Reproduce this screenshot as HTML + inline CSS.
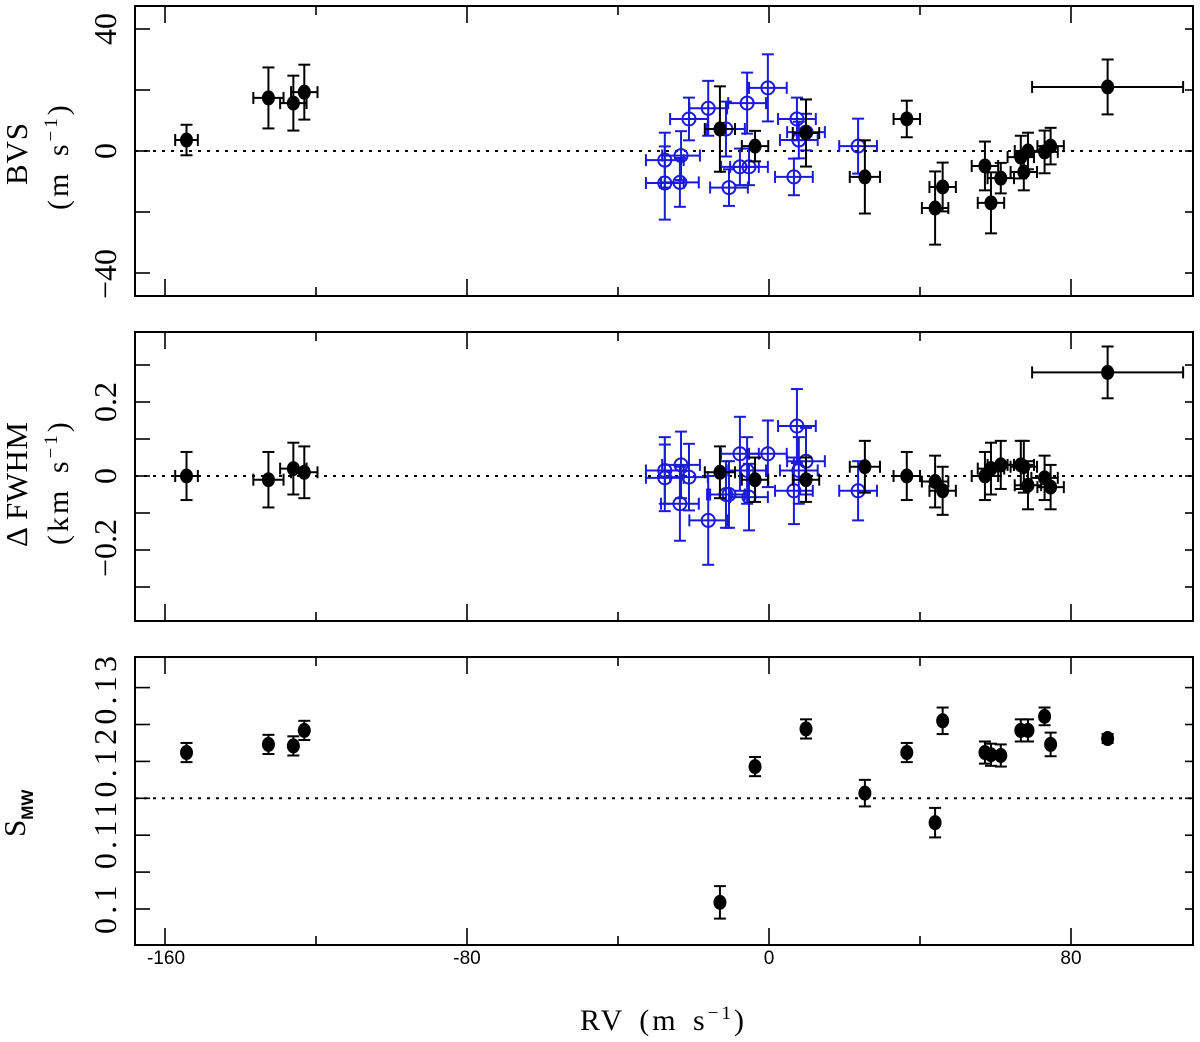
<!DOCTYPE html>
<html><head><meta charset="utf-8"><style>
html,body{margin:0;padding:0;background:#fff;}
svg{display:block;}
text{font-family:"Liberation Serif",serif;fill:#000;}
.sans{font-family:"Liberation Sans",sans-serif;}
.sp{letter-spacing:3px;word-spacing:4px;}
</style></head><body>
<svg id="chart" width="1200" height="1042" viewBox="0 0 1200 1042" xmlns="http://www.w3.org/2000/svg">
<g id="frames"></g>
<g id="marks"></g>
<g id="labels">
<text class="sans" x="166" y="964" font-size="19" text-anchor="middle">-160</text>
<text class="sans" x="467" y="964" font-size="19" text-anchor="middle">-80</text>
<text class="sans" x="769" y="964" font-size="19" text-anchor="middle">0</text>
<text class="sans" x="1071" y="964" font-size="19" text-anchor="middle">80</text>
<text class="sp" x="580" y="1030" font-size="30">RV (m s<tspan font-size="19" dy="-11">−1</tspan><tspan dy="11">)</tspan></text>

<text transform="translate(27,185) rotate(-90)" font-size="31" textLength="62">BVS</text>
<text class="sp" transform="translate(68,210) rotate(-90)" font-size="30">(m s<tspan font-size="19" dy="-11">−1</tspan><tspan dy="11">)</tspan></text>
<text transform="translate(116,29) rotate(-90)" font-size="32" text-anchor="middle">40</text>
<text transform="translate(116,151) rotate(-90)" font-size="32" text-anchor="middle">0</text>
<text transform="translate(116,274) rotate(-90)" font-size="32" text-anchor="middle">−40</text>

<text transform="translate(27,547) rotate(-90)" font-size="31" textLength="125">Δ FWHM</text>
<text class="sp" transform="translate(68,545) rotate(-90)" font-size="30">(km s<tspan font-size="19" dy="-11">−1</tspan><tspan dy="11">)</tspan></text>
<text transform="translate(116,402) rotate(-90)" font-size="32" text-anchor="middle">0.2</text>
<text transform="translate(116,476) rotate(-90)" font-size="32" text-anchor="middle">0</text>
<text transform="translate(116,548) rotate(-90)" font-size="32" text-anchor="middle">−0.2</text>

<text transform="translate(25,837) rotate(-90)" font-size="31">S<tspan font-size="17" font-weight="bold" dy="8" class="sans">MW</tspan></text>
<text transform="translate(116,934) rotate(-90)" font-size="32" textLength="278">0.1 0.110.120.13</text>
</g>
</svg>
<script>
// ---- data ----
const rvBlack   = [-154.3,-132.6,-126.0,-123.1,-13.0,-3.7,9.8,25.4,36.5,44.0,46.0,57.2,58.8,61.4,66.7,67.5,68.6,73.0,74.6,89.7];
const rvBlackErr= [3,4,3.5,3.5,4,3.5,3.5,4,3.5,3.5,3.5,3.5,3.5,3.5,3.5,3.5,3.5,3.5,3.5,20];
const bvsBlack  = [3.6,17.4,15.7,19.3,7.2,1.6,5.9,-8.5,10.5,-18.7,-11.8,-4.9,-17.0,-8.9,-2.0,-6.9,0.0,-0.3,1.6,21.0];
const bvsBlackErr=[5,10,9,9,14,5,11,12,6,12,8,8,10,5,7,6,6,7,6,9];
const fwhmBlack = [0,-0.01,0.02,0.01,0.01,-0.01,-0.01,0.025,0,-0.015,-0.04,0,0.02,0.03,0.03,0.025,-0.025,-0.005,-0.03,0.28];
const fwhmBlackErr=[0.065,0.075,0.07,0.07,0.07,0.06,0.06,0.07,0.065,0.07,0.065,0.065,0.07,0.065,0.065,0.07,0.065,0.06,0.06,0.07];
const smwRv     = [-154.3,-132.6,-126.0,-123.1,-13.0,-3.7,9.8,25.4,36.5,44.0,46.0,57.2,58.8,61.4,66.7,68.6,73.0,74.6,89.7];
const smwVal    = [0.1212,0.1223,0.1221,0.1242,0.1009,0.1193,0.1244,0.1157,0.1212,0.1117,0.1255,0.1212,0.1209,0.1208,0.1242,0.1242,0.1261,0.1223,0.1231];
const smwErr    = [0.0013,0.0013,0.0013,0.0013,0.0022,0.0013,0.0013,0.0018,0.0013,0.0020,0.0018,0.0015,0.0015,0.0015,0.0015,0.0015,0.0012,0.0016,0.0006];
const rvBlue    = [-27.6,-27.6,-23.3,-23.6,-21.2,-16.1,-11.4,-10.6,-7.7,-5.3,-5.8,-0.3,7.4,7.9,9.8,6.6,23.6];
const rvBlueErr = [5,5,5,5,5,5,5,5,5,5,5,5,5,5,5,5,5];
const bvsBlue   = [-3.0,-10.5,-1.5,-10.3,10.5,14.0,7.2,-12.0,-5.2,-5.2,15.7,20.7,10.5,3.6,6.2,-8.5,1.6];
const bvsBlueErr= [9,12,8,8,7,9,9,6,6,6,10,11,7,6,6,6,9];
const fwhmBlue  = [0.015,-0.005,0.03,-0.075,-0.003,-0.12,-0.05,-0.05,0.06,-0.057,0.015,0.06,0.135,0.015,0.04,-0.04,-0.04];
const fwhmBlueErr=[0.09,0.09,0.09,0.1,0.09,0.12,0.09,0.09,0.1,0.09,0.09,0.09,0.1,0.09,0.09,0.09,0.08];
const xTicksMajor = [-160,-80,0,80];
const xTicksMinor = [-120,-40,40];

// ---- axes ----
const X0=135, X1=1193;
const xs = v => 769 + v*3.775;
const panels = [
  {name:'bvs',   top:6,   bot:296, y: v => 151 - v*3.05,          ticks:[-40,-20,0,20,40], zero:0},
  {name:'fwhm',  top:332, bot:621, y: v => 476 - v*370,           ticks:[-0.3,-0.2,-0.1,0,0.1,0.2,0.3], zero:0},
  {name:'smw',   top:657, bot:945, y: v => 909 - (v-0.1)*7380,    ticks:[0.1,0.105,0.11,0.115,0.12,0.125,0.13], zero:0.115}
];
const NS='http://www.w3.org/2000/svg';
const frames=document.getElementById('frames'), marks=document.getElementById('marks');
function mk(tag, attrs, parent){
  const e=document.createElementNS(NS,tag);
  for(const k in attrs) e.setAttribute(k,attrs[k]);
  parent.appendChild(e); return e;
}
function line(x1,y1,x2,y2,stroke,w,parent,name){
  const l=mk('line',{x1:x1,y1:y1,x2:x2,y2:y2,stroke:stroke,'stroke-width':w},parent);
  
  
  return l;
}
panels.forEach(p=>{
  const g=mk('g',{},frames);
  
  
  const r=mk('rect',{x:X0,y:p.top,width:X1-X0,height:p.bot-p.top,fill:'none',stroke:'#000','stroke-width':2},g);
  
  
  xTicksMajor.forEach(t=>{ line(xs(t),p.bot,xs(t),p.bot-17,'#000',1.6,g,'x-tick-major'); line(xs(t),p.top,xs(t),p.top+17,'#000',1.6,g,'x-tick-major-top'); });
  xTicksMinor.forEach(t=>{ line(xs(t),p.bot,xs(t),p.bot-9,'#000',1.6,g,'x-tick-minor'); line(xs(t),p.top,xs(t),p.top+9,'#000',1.6,g,'x-tick-minor-top'); });
  p.ticks.forEach(t=>{ line(X0,p.y(t),X0+15,p.y(t),'#000',1.6,g,'y-tick'); line(X1,p.y(t),X1-8,p.y(t),'#000',1.6,g,'y-tick-right'); });
  const z=line(X0,p.y(p.zero),X1,p.y(p.zero),'#000',2,g,p.name+'-reference-line');
  z.setAttribute('stroke-dasharray','3,6');
});
function errPoint(x,y,xe,ye,p,color,open,name){
  const g=mk('g',{},marks);
  
  
  const cx=xs(x), cy=p.y(y), cap=6;
  if(xe!==null){
    const xl=xs(x-xe), xr=xs(x+xe);
    line(xl,cy,xr,cy,color,2,g,'x-error-bar');
    line(xl,cy-cap,xl,cy+cap,color,2,g,'x-error-cap');
    line(xr,cy-cap,xr,cy+cap,color,2,g,'x-error-cap');
  }
  const yt=p.y(y+ye), yb=p.y(y-ye);
  line(cx,yt,cx,yb,color,2,g,'y-error-bar');
  line(cx-cap,yt,cx+cap,yt,color,2,g,'y-error-cap');
  line(cx-cap,yb,cx+cap,yb,color,2,g,'y-error-cap');
  const c = open ? mk('circle',{cx:cx,cy:cy,r:6.5,fill:'none',stroke:color,'stroke-width':2},g)
                 : mk('ellipse',{cx:cx,cy:cy,rx:6.5,ry:7.5,fill:color},g);
  
  
}
const blue='#1a1adc';
rvBlue.forEach((x,i)=>errPoint(x,bvsBlue[i],rvBlueErr[i],bvsBlueErr[i],panels[0],blue,true,'bvs-blue-point'));
rvBlack.forEach((x,i)=>errPoint(x,bvsBlack[i],rvBlackErr[i],bvsBlackErr[i],panels[0],'#000',false,'bvs-black-point'));
rvBlue.forEach((x,i)=>errPoint(x,fwhmBlue[i],rvBlueErr[i],fwhmBlueErr[i],panels[1],blue,true,'fwhm-blue-point'));
rvBlack.forEach((x,i)=>errPoint(x,fwhmBlack[i],rvBlackErr[i],fwhmBlackErr[i],panels[1],'#000',false,'fwhm-black-point'));
smwRv.forEach((x,i)=>errPoint(x,smwVal[i],null,smwErr[i],panels[2],'#000',false,'smw-point'));
</script>
</body></html>
